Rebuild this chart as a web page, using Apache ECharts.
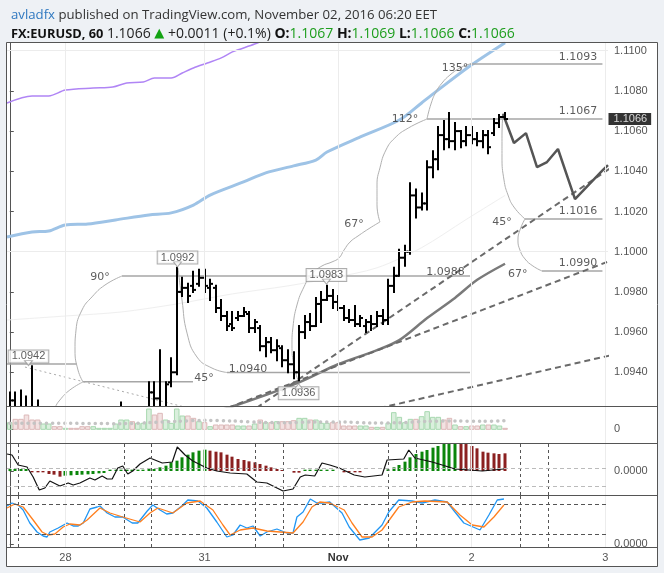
<!DOCTYPE html>
<html>
<head>
<meta charset="utf-8">
<script src="https://cdn.jsdelivr.net/npm/echarts@6.0.0/dist/echarts.min.js"></script>
<style>
html,body{margin:0;padding:0;background:#eef1f5;}
#chart{width:664px;height:573px;}
</style>
</head>
<body>
<div id="chart"></div>
<script>
// ===== data =====
const timeIdx = [10, 35, 59, 83, 107];
const timeText = ['28', '31', 'Nov', '2', '3'];
const priceTicks = [1.094, 1.096, 1.098, 1.100, 1.102, 1.104, 1.106, 1.108, 1.110];
const lastPrice = 1.1066;
const cycleIdx = [1.5, 20.5, 25.5, 44.2, 49.2, 68, 73, 91.8, 96.8];

// hourly bars [open, high, low, close], index 0 = Oct 27 14:00
const ohlc = [
[1.0922,1.0930,1.0918,1.0926],[1.0926,1.0930,1.0917,1.0920],[1.0920,1.0931,1.0914,1.0917],[1.0917,1.0928,1.0910,1.0913],
[1.0913,1.0943,1.0905,1.0910],[1.0910,1.0926,1.0902,1.0905],[1.0905,1.0915,1.0898,1.0910],[1.0910,1.0916,1.0902,1.0912],
[1.0912,1.0916,1.0905,1.0910],[1.0910,1.0914,1.0904,1.0908],[1.0908,1.0912,1.0903,1.0909],[1.0909,1.0912,1.0905,1.0908],
[1.0908,1.0911,1.0904,1.0906],[1.0906,1.0910,1.0902,1.0904],[1.0904,1.0908,1.0898,1.0902],[1.0902,1.0907,1.0899,1.0905],
[1.0905,1.0908,1.0902,1.0906],[1.0906,1.0910,1.0903,1.0907],[1.0907,1.0910,1.0904,1.0908],[1.0908,1.0915,1.0905,1.0913],
[1.0913,1.0925,1.0908,1.0920],[1.0918,1.0922,1.0910,1.0919],[1.0919,1.0921,1.0909,1.0912],[1.0912,1.0918,1.0906,1.0915],
[1.0915,1.0920,1.0908,1.0917],[1.0917,1.0935,1.0905,1.0930],[1.0930,1.0935,1.0915,1.0927],[1.0927,1.0951,1.0912,1.0922],
[1.0922,1.0935,1.0915,1.0934],[1.0935,1.0947,1.0933,1.0940],[1.0940,1.0992,1.0939,1.0980],[1.0980,1.0987,1.0978,1.0982],
[1.0982,1.0984,1.0975,1.0978],[1.0983,1.0990,1.0980,1.0981],[1.0984,1.0991,1.0983,1.0987],[1.0987,1.0991,1.0980,1.0983],
[1.0982,1.0986,1.0976,1.0984],[1.0982,1.0983,1.0970,1.0972],[1.0972,1.0976,1.0966,1.0968],[1.0968,1.0970,1.0961,1.0963],
[1.0964,1.0970,1.0961,1.0962],[1.0967,1.0970,1.0966,1.0968],[1.0968,1.0972,1.0968,1.0970],[1.0969,1.0970,1.0960,1.0962],
[1.0962,1.0966,1.0960,1.0965],[1.0962,1.0963,1.0951,1.0953],[1.0953,1.0957,1.0948,1.0955],[1.0955,1.0957,1.0950,1.0951],
[1.0951,1.0956,1.0946,1.0953],[1.0952,1.0953,1.0943,1.0946],[1.0946,1.0951,1.0940,1.0944],[1.0944,1.0950,1.0937,1.0940],
[1.0940,1.0963,1.0936,1.0960],[1.0960,1.0968,1.0957,1.0965],[1.0965,1.0969,1.0961,1.0963],[1.0963,1.0977,1.0963,1.0974],
[1.0974,1.0980,1.0965,1.0976],[1.0976,1.0983,1.0976,1.0978],[1.0978,1.0981,1.0972,1.0975],[1.0975,1.0978,1.0971,1.0972],
[1.0972,1.0973,1.0966,1.0967],[1.0967,1.0971,1.0965,1.0966],[1.0966,1.0973,1.0963,1.0964],[1.0964,1.0968,1.0963,1.0967],
[1.0963,1.0966,1.0960,1.0965],[1.0965,1.0968,1.0961,1.0964],[1.0964,1.0970,1.0963,1.0968],[1.0968,1.0971,1.0964,1.0966],
[1.0966,1.0986,1.0964,1.0983],[1.0983,1.0992,1.0980,1.0988],[1.0988,1.1001,1.0988,1.0997],[1.0997,1.1003,1.0993,1.1000],
[1.1000,1.1034,1.0999,1.1028],[1.1028,1.1031,1.1017,1.1022],[1.1022,1.1029,1.1021,1.1024],[1.1024,1.1045,1.1021,1.1042],
[1.1042,1.1050,1.1037,1.1046],[1.1046,1.1062,1.1041,1.1058],[1.1058,1.1065,1.1051,1.1056],[1.1056,1.1069,1.1052,1.1055],
[1.1055,1.1064,1.1051,1.1060],[1.1060,1.1060,1.1052,1.1055],[1.1055,1.1062,1.1053,1.1058],[1.1058,1.1062,1.1054,1.1056],
[1.1056,1.1059,1.1053,1.1055],[1.1055,1.1060,1.1052,1.1058],[1.1058,1.1060,1.1049,1.1052],[1.1059,1.1066,1.1058,1.1064],
[1.1064,1.1068,1.1062,1.1067],[1.1067,1.1069,1.1066,1.1066]
];

const volume = [20,30,30,43,28,28,16,16,8,8, 3,3,3,8,8,8,3,3,3,16, 28,28,23,18,18,61,43,48,28,18,
  61,40,40,33,23,20,8,13,13,13, 13,10,10,10,16,28,20,20,23,23, 23,26,33,33,28,28,18,18,20,20,
  10,10,10,10,10,6,6,6,18,50, 36,20,30,30,38,53,36,36,28,33, 13,8,8,10,10,13,13,13,10,3];
const volumeMA = [[0,18],[10,18],[20,17],[25,20],[30,24],[35,27],[40,25],[45,21],[50,20],[55,22],[60,22],[65,19],[70,20],[75,24],[80,25],[85,24],[89,26]];

const macdHist = [6,6,6,6,-4,-4,-4,-9,-11,-17, -14,-13,-12,-11,-10,-9,-7,-6,4,4, 4,4,4,4,4,6,6,11,16,26,
  31,41,49,56,61,64,61,58,56,49, 43,36,33,29,26,21,16,11,6,3, 0,-5,-5,4,4,4,4,4,4,0,
  -4,-4,-4,-4,0,0,0,0,5,11, 18,28,41,51,58,63,70,75,81,83, 84,83,81,75,68,58,55,53,51,53];
const macdHistColor = 'ggggrrrrrr' + 'gggggggggg' + 'gggggggggg' + 'ggggggrrrr' + 'rrrrrrrrrr' +
  'rrrggggggg' + 'rrrrgggggg' + 'gggggggggg' + 'grrrrrrrrr';
const macdLine = [[-0.5,51],[0.4,48],[1.5,18],[3.1,12],[4.2,-18],[5.3,-57],[6.3,-51],[7.2,-30],[9.0,-45],[10.5,-36],[11.4,-42],[12.6,-36],[14.4,-21],[15.3,-27],[16.6,-15],[17.5,-24],[18.4,-24],[19.4,9],[20.3,15],[21.2,-9],[22.1,0],[23.4,21],[25.2,39],[27.4,24],[29.2,27],[30.1,72],[31.5,48],[32.9,30],[35.4,9],[37.2,0],[39.6,-6],[42.6,-9],[44.4,-33],[46.2,-36],[49.1,-60],[50.9,-54],[52.2,-18],[53.1,-12],[54.8,-15],[56.1,24],[57.5,18],[59.2,9],[61.9,-12],[63.8,-18],[66.9,-12],[67.8,33],[70.8,36],[71.7,63],[72.8,39],[75.9,27],[77.7,18],[80,6],[84.9,0],[88.8,6]];

const stochK = [[-0.5,76],[0.4,82],[1.5,78],[2.4,68],[3.6,42],[4.9,24],[6,16],[6.7,14],[7.2,24],[8.7,32],[10.3,42],[11.4,36],[12.3,36],[13.2,42],[14.4,70],[15.7,74],[16.2,76],[17.5,62],[18.9,54],[20.3,54],[22,42],[23,42],[24.7,66],[25.7,78],[27,68],[28.2,60],[29.3,62],[30.9,76],[32,88],[33.8,86],[35.4,72],[37.2,44],[39,14],[40.1,18],[41.4,38],[42.6,32],[43.7,36],[45,16],[46.2,24],[48,30],[49.8,22],[50.9,22],[51.6,54],[52.7,64],[54,90],[55.2,82],[56.3,82],[57.5,84],[59.7,62],[61,34],[62.9,8],[64.6,12],[66.9,38],[68.1,64],[69.9,88],[72.3,86],[74.1,82],[76.4,88],[78.6,84],[80,64],[81.6,42],[84.5,28],[86.1,58],[87.6,88],[88.8,90]];
const stochD = [[-0.5,72],[0.9,80],[2.4,74],[4.2,48],[5.8,24],[6.9,18],[8.1,20],[9.6,34],[10.8,40],[12.6,38],[13.9,48],[16.2,72],[18,62],[20.3,54],[23.4,44],[25.2,62],[26.6,72],[29.3,62],[31.8,82],[34.2,86],[36.5,68],[38.3,38],[39.6,18],[41.4,28],[43.7,32],[46.2,26],[48.6,24],[50.9,22],[52.7,44],[54.3,74],[55.7,84],[57.5,82],[60.1,68],[61.5,42],[63.3,14],[65.1,14],[66.9,28],[69.9,74],[72.3,84],[74.6,86],[78.6,84],[80.9,58],[83.1,38],[85.2,34],[87,54],[88.8,78]];

// overlay indicator lines on price
const blueLine = [[-0.5,1.10073],[4,1.10098],[7,1.10103],[10,1.10133],[14,1.10138],[19,1.10158],[25,1.10183],[29,1.10193],[33,1.10232],[36,1.10282],[42,1.10347],[46,1.10392],[51,1.10427],[55,1.10456],[57,1.10496],[63,1.10571],[70,1.10655],[74,1.10740],[77,1.10805],[83,1.1093],[89,1.1104]];
const purpleLine = [[-0.5,1.10740],[4,1.10775],[7,1.10775],[10,1.10804],[15,1.10814],[18.5,1.10819],[21,1.10839],[24,1.10844],[26,1.10864],[29,1.10864],[31,1.10889],[33,1.10914],[35.5,1.10939],[38,1.10964],[40,1.10994],[44,1.11033],[47,1.11068],[52,1.1112]];
const grayMA = [[30,1.0915],[40,1.0923],[52,1.0935],[59,1.0944],[66,1.0951],[70,1.0956],[75,1.0967],[80,1.0977],[84,1.0986],[89,1.0994]];
const faintMA = [[-0.5,1.0966],[10,1.0968],[20,1.0970],[30,1.0974],[40,1.0979],[50,1.0983],[58,1.0987],[66,1.0992],[74,1.1002],[82,1.1016],[89,1.1028]];

// drawings (index, price)
const lvl0942 = [[-0.5,1.09441],[12.08,1.09441]];
const arc90 = [[13.16,1.09352],[12.26,1.09411],[11.72,1.09511],[11.9,1.09610],[12.98,1.09710],[14.77,1.09775],[17.1,1.09834],[20.16,1.09879]];
const arc90low = [[13.16,1.09352],[10.8,1.09312],[9.0,1.09262],[8.1,1.09222],[7.6,1.0918]];
const lvl45 = [[13.16,1.09353],[32.92,1.09353]];
const lvl0988 = [[20.16,1.09879],[82.7,1.09879]];
const arc45a = [[30.23,1.09919],[30.95,1.09760],[31.85,1.09595],[33.64,1.09476],[36.34,1.09421],[39.03,1.09399]];
const lvl0940 = [[39.03,1.09399],[82.7,1.09399]];
const arc67a = [[51.79,1.09362],[51.07,1.09431],[50.71,1.09536],[50.89,1.09625],[51.61,1.09735],[52.87,1.09825],[54.31,1.09890],[56.1,1.09929],[57.9,1.09949],[59.16,1.09969],[60.06,1.10008],[61.14,1.10048],[62.57,1.10078],[64.73,1.10118],[66.52,1.10148]];
const arc112 = [[66.52,1.10148],[65.99,1.10233],[65.99,1.10332],[66.52,1.10417],[67.6,1.10506],[69.2,1.10566],[71.6,1.10615],[74.97,1.10660]];
const arc135 = [[74.97,1.10660],[75.69,1.10735],[76.59,1.10795],[77.67,1.10839],[79.1,1.10879],[80.9,1.10914],[82.7,1.10934]];
const lvl1093 = [[82.7,1.10934],[106.5,1.10934]];
const lvl1067 = [[74.97,1.10660],[106.5,1.10660]];
const arc45b = [[88.63,1.10690],[88.45,1.10580],[88.45,1.10471],[88.81,1.10357],[89.53,1.10282],[90.6,1.10222],[92.58,1.10163]];
const lvl1016 = [[92.58,1.10163],[106.5,1.10163]];
const arc67b = [[92.58,1.10163],[91.68,1.10108],[91.32,1.10058],[91.68,1.10008],[92.58,1.09964],[94.0,1.09929],[95.64,1.09904]];
const lvl0990 = [[95.64,1.09904],[106.5,1.09904]];
const projection = [[88.63,1.10685],[90.6,1.10541],[92.76,1.10590],[94.74,1.10421],[96.54,1.10446],[98.51,1.10511],[101.57,1.10262],[106.6,1.10407],[107.5,1.10431]];
const trend1 = [[41.4,1.09168],[108.2,1.10421]];
const trend2 = [[34.2,1.09170],[108.2,1.09958]];
const trend3 = [[64.7,1.09211],[108.2,1.09486]];
const fanDotted = [[2.73,1.09426],[40,1.09168]];
const textLabels = [[16.21,1.09874,'90°'],[34.9,1.09372,'45°'],[42.8,1.09416,'1.0940'],[78.3,1.09899,'1.0988'],[61.85,1.10138,'67°'],[71.0,1.1066,'112°'],[80.0,1.10914,'135°'],[102.1,1.10969,'1.1093'],[102.1,1.10700,'1.1067'],[102.1,1.10203,'1.1016'],[102.1,1.09944,'1.0990'],[88.45,1.10148,'45°'],[91.3,1.09889,'67°']];
const boxLabels = [[30.14,1.09971,'1.0992'],[56.9,1.09884,'1.0983'],[51.9,1.09296,'1.0936'],[3.36,1.09479,'1.0942']];
// callout pointers of the boxes: [index, price, 1 = points down / 0 = points up]
const boxPointers = [[30.14,1.09937,1],[56.9,1.09851,1],[51.9,1.09330,0],[3.36,1.09446,1]];

// ===== chart =====
const chart = echarts.init(document.getElementById('chart'));
const X_MIN = -0.5, X_MAX = 107.5;
const AX = '#555';
const AF = 'Liberation Sans, Arial, sans-serif';
const LBL = {color: '#555', fontSize: 11, fontFamily: AF};
const CLEAR = 'rgba(0,0,0,0)';

function xAxis(gi, withLabels) {
  return {
    type: 'value', gridIndex: gi, min: X_MIN, max: X_MAX,
    axisLine: {show: false}, splitLine: {show: false},
    axisTick: withLabels ? {show: true, customValues: timeIdx, length: 4, lineStyle: {color: AX}} : {show: false},
    axisLabel: withLabels ? Object.assign({}, LBL, {
      customValues: timeIdx, margin: 5,
      formatter: function (v) {
        const k = timeIdx.indexOf(Math.round(v));
        if (k < 0) return '';
        return timeText[k] === 'Nov' ? '{b|Nov}' : timeText[k];
      },
      rich: {b: {fontWeight: 'bold', color: '#333', fontSize: 11, fontFamily: AF}}
    }) : {show: false}
  };
}
function yAxis(gi, min, max, vals, fmt) {
  return {
    type: 'value', gridIndex: gi, position: 'right', min: min, max: max, scale: true,
    axisLine: {show: true, lineStyle: {color: AX}},
    axisTick: {show: true, customValues: vals, length: 4, lineStyle: {color: AX}},
    axisLabel: Object.assign({}, LBL, {customValues: vals, margin: 6, formatter: fmt}),
    splitLine: {show: false}
  };
}
function helper(gi, yVal, marks) {
  return {
    type: 'line', xAxisIndex: gi, yAxisIndex: gi, data: [[X_MIN, yVal]], symbol: 'none',
    silent: true, z: 1, lineStyle: {opacity: 0},
    markLine: {silent: true, symbol: 'none', animation: false, label: {show: false}, data: marks}
  };
}
function vGrid() {
  return timeIdx.map(v => ({xAxis: v, lineStyle: {color: '#ececec', width: 1, type: 'solid'}}));
}
function drawing(data, color, width, type, smooth) {
  return {
    type: 'line', xAxisIndex: 0, yAxisIndex: 0, data: data, symbol: 'none', silent: true,
    smooth: smooth || false, clip: true, z: 3,
    lineStyle: {color: color, width: width, type: type || 'solid'}
  };
}

const ohlcData = ohlc.map((d, i) => [i, d[0], d[1], d[2], d[3]]);
const volData = volume.map((v, i) => [i, v, ohlc[i][3] >= ohlc[i][0] ? 1 : 0]);
const histData = macdHist.map((v, i) => [i, v, macdHistColor[i] === 'g' ? 1 : 0]);

const series = [];
// price panel gridlines
series.push(helper(0, 1.1, vGrid().concat(priceTicks.map(v => ({yAxis: v, lineStyle: {color: '#ececec', width: 1, type: 'solid'}})))));
// overlay indicators
series.push({type: 'line', xAxisIndex: 0, yAxisIndex: 0, data: faintMA, symbol: 'none', smooth: 0.3, z: 2, silent: true, lineStyle: {color: '#efefef', width: 1}});
series.push({type: 'line', xAxisIndex: 0, yAxisIndex: 0, data: purpleLine, symbol: 'none', smooth: 0.3, z: 2, silent: true, lineStyle: {color: '#b085f5', width: 1.5}});
series.push({type: 'line', xAxisIndex: 0, yAxisIndex: 0, data: blueLine, symbol: 'none', smooth: 0.3, z: 2, silent: true, lineStyle: {color: '#9ec3e6', width: 3}});
series.push({type: 'line', xAxisIndex: 0, yAxisIndex: 0, data: grayMA, symbol: 'none', smooth: 0.3, z: 3, silent: true, lineStyle: {color: '#7a7a7a', width: 2.5}});
// drawings
[lvl0942, lvl45, lvl0988, lvl0940, lvl1093, lvl1067, lvl1016, lvl0990].forEach(d => series.push(drawing(d, '#a6a6a6', 1.5)));
[arc90, arc90low, arc45a, arc67a, arc112, arc135, arc45b, arc67b].forEach(d => series.push(drawing(d, '#b0b0b0', 1, 'solid', 0.5)));
series.push(drawing(fanDotted, '#aaaaaa', 1, [2, 3]));
[trend1, trend2, trend3].forEach(d => series.push(drawing(d, '#6a6a6a', 2, [6, 4])));
series.push(drawing(projection, '#555555', 2.5));
// OHLC bars
series.push({
  type: 'custom', xAxisIndex: 0, yAxisIndex: 0, data: ohlcData, clip: true, z: 4, silent: true,
  encode: {x: 0, y: [1, 2, 3, 4]},
  renderItem: function (params, api) {
    const i = api.value(0);
    const o = api.coord([i, api.value(1)]), h = api.coord([i, api.value(2)]);
    const l = api.coord([i, api.value(3)]), c = api.coord([i, api.value(4)]);
    const x = Math.round(h[0]);
    const st = {stroke: '#000', lineWidth: 2};
    return {type: 'group', children: [
      {type: 'line', shape: {x1: x, y1: h[1] - 1, x2: x, y2: l[1] + 1}, style: st},
      {type: 'line', shape: {x1: x - 3, y1: o[1], x2: x, y2: o[1]}, style: st},
      {type: 'line', shape: {x1: x, y1: c[1], x2: x + 3, y2: c[1]}, style: st}
    ]};
  }
});
// text annotations
series.push({
  type: 'scatter', xAxisIndex: 0, yAxisIndex: 0, data: textLabels, symbolSize: 1, itemStyle: {color: CLEAR}, z: 6, silent: true,
  label: {show: true, position: 'inside', formatter: p => p.data[2], color: '#333', fontSize: 11, fontFamily: 'DejaVu Sans, Verdana, sans-serif'}
});
series.push({
  type: 'scatter', xAxisIndex: 0, yAxisIndex: 0, data: boxLabels, symbolSize: 1, itemStyle: {color: CLEAR}, z: 6, silent: true,
  label: {show: true, position: 'inside', formatter: p => p.data[2], color: '#333', fontSize: 11,
    fontFamily: AF, backgroundColor: '#fff', borderColor: '#999', borderWidth: 1, padding: [1, 3, 0, 3]}
});
series.push({
  type: 'scatter', xAxisIndex: 0, yAxisIndex: 0, data: boxPointers, symbol: 'triangle', symbolSize: [8, 5], z: 7, silent: true,
  symbolRotate: p => (p[2] === 1 ? 180 : 0),
  itemStyle: {color: '#fff', borderColor: '#999', borderWidth: 1}
});
// last price tag on the axis
series.push({
  type: 'scatter', xAxisIndex: 0, yAxisIndex: 0, data: [[X_MAX, lastPrice]], symbolSize: 1, itemStyle: {color: CLEAR},
  z: 20, silent: true, clip: false,
  label: {show: true, position: 'right', distance: 0, formatter: lastPrice.toFixed(4), backgroundColor: '#000', color: '#fff',
    padding: [1, 4, 0, 5], fontSize: 11, fontFamily: AF}
});

// volume panel
series.push(helper(1, 0, vGrid()));
series.push({
  type: 'custom', xAxisIndex: 1, yAxisIndex: 1, data: volData, clip: true, z: 2, silent: true,
  encode: {x: 0, y: 1},
  renderItem: function (params, api) {
    const i = api.value(0);
    const b = api.coord([i, 0]), t = api.coord([i, api.value(1)]);
    const w = api.size([1, 0])[0];
    const up = api.value(2) === 1;
    return {type: 'rect', shape: {x: b[0] - w / 2 + 0.5, y: t[1], width: w - 1, height: b[1] - t[1]},
      style: {fill: up ? 'rgba(140,205,150,0.32)' : 'rgba(215,160,160,0.30)', stroke: up ? '#a8d8b0' : '#dcb8b8', lineWidth: 1}};
  }
});
series.push({type: 'line', xAxisIndex: 1, yAxisIndex: 1, data: volumeMA, symbol: 'none', smooth: 0.3, z: 3, silent: true,
  lineStyle: {color: '#c4c4c4', width: 3.5, type: [0.1, 6], cap: 'round'}});

// MACD panel
series.push(helper(2, 0, vGrid().concat(
  cycleIdx.map(v => ({xAxis: v, lineStyle: {color: '#555', width: 1, type: [3, 3]}})),
  [{yAxis: 8, lineStyle: {color: '#bbb', width: 1, type: [4, 3]}}, {yAxis: -45, lineStyle: {color: '#bbb', width: 1, type: [4, 3]}}]
)));
series.push({
  type: 'custom', xAxisIndex: 2, yAxisIndex: 2, data: histData, clip: true, z: 2, silent: true,
  encode: {x: 0, y: 1},
  renderItem: function (params, api) {
    const v = api.value(1);
    if (v === 0) return null;
    const i = api.value(0);
    const b = api.coord([i, 0]), t = api.coord([i, v]);
    return {type: 'rect', shape: {x: Math.round(b[0]) - 1.5, y: Math.min(b[1], t[1]), width: 3, height: Math.abs(b[1] - t[1])},
      style: {fill: api.value(2) === 1 ? '#0b860b' : '#8b2020'}};
  }
});
series.push({type: 'line', xAxisIndex: 2, yAxisIndex: 2, data: macdLine, symbol: 'none', z: 3, silent: true, lineStyle: {color: '#111', width: 1.2}});

// Stochastic panel
series.push(helper(3, 0, vGrid().concat(
  cycleIdx.map(v => ({xAxis: v, lineStyle: {color: '#555', width: 1, type: [3, 3]}})),
  [{yAxis: 80, lineStyle: {color: '#555', width: 1, type: [4, 3]}}, {yAxis: 20, lineStyle: {color: '#555', width: 1, type: [4, 3]}}]
)));
series.push({type: 'line', xAxisIndex: 3, yAxisIndex: 3, data: stochK, symbol: 'none', z: 3, silent: true, lineStyle: {color: '#2196f3', width: 1.3}});
series.push({type: 'line', xAxisIndex: 3, yAxisIndex: 3, data: stochD, symbol: 'none', z: 3, silent: true, lineStyle: {color: '#ff7f1e', width: 1.3}});

const HF = 'Open Sans, DejaVu Sans, sans-serif';
const option = {
  animation: false,
  backgroundColor: '#eef1f5',
  title: [
    {left: 6, top: 2, text: '{a|avladfx}{b| published on TradingView.com, November 02, 2016 06:20 EET}',
      textStyle: {fontWeight: 'normal', rich: {
        a: {color: '#2f78c0', fontSize: 13.2, fontWeight: 'normal', fontFamily: HF, lineHeight: 16},
        b: {color: '#333', fontSize: 13.2, fontWeight: 'normal', fontFamily: HF, lineHeight: 16}}}},
    {left: 6, top: 21, text: '{f|FX:EURUSD, 60}{v| 1.1066 }{u|▲}{v| +0.0011 (+0.1%) }{k|O:}{g|1.1067}{k| H:}{g|1.1069}{k| L:}{g|1.1066}{k| C:}{g|1.1066}',
      textStyle: {fontWeight: 'normal', rich: {
        f: {color: '#111', fontWeight: 'bold', fontSize: 12.8, fontFamily: HF, lineHeight: 16},
        k: {color: '#111', fontWeight: 'bold', fontSize: 14, fontFamily: HF, lineHeight: 16},
        v: {color: '#222', fontWeight: 'normal', fontSize: 14, fontFamily: HF, lineHeight: 16},
        u: {color: '#13a313', fontWeight: 'normal', fontSize: 13, fontFamily: 'DejaVu Sans', lineHeight: 16},
        g: {color: '#1d9e1d', fontWeight: 'normal', fontSize: 14, fontFamily: HF, lineHeight: 16}
      }}}
  ],
  grid: [
    {left: 7, top: 43, width: 601, height: 363},
    {left: 7, top: 407, width: 601, height: 36},
    {left: 7, top: 443, width: 601, height: 52},
    {left: 7, top: 495, width: 601, height: 52}
  ],
  xAxis: [xAxis(0, false), xAxis(1, false), xAxis(2, false), xAxis(3, true)],
  yAxis: [
    yAxis(0, 1.092323, 1.110383, priceTicks, v => v.toFixed(4)),
    yAxis(1, -41, 67, [0], () => '0'),
    yAxis(2, -72, 84, [0], () => '0.0000'),
    yAxis(3, -6, 98, [0], () => '0.0000')
  ],
  graphic: [
    {type: 'rect', z: -100, silent: true, shape: {x: 6.5, y: 42.5, width: 651, height: 524}, style: {fill: '#fff'}},
    {type: 'rect', z: 100, silent: true, shape: {x: 6.5, y: 42.5, width: 651, height: 524}, style: {fill: 'none', stroke: '#555', lineWidth: 1}},
    {type: 'line', z: 100, silent: true, shape: {x1: 6.5, y1: 406.5, x2: 657.5, y2: 406.5}, style: {stroke: '#555', lineWidth: 1}},
    {type: 'line', z: 100, silent: true, shape: {x1: 6.5, y1: 443.5, x2: 657.5, y2: 443.5}, style: {stroke: '#555', lineWidth: 1}},
    {type: 'line', z: 100, silent: true, shape: {x1: 6.5, y1: 495.5, x2: 657.5, y2: 495.5}, style: {stroke: '#555', lineWidth: 1}},
    {type: 'line', z: 100, silent: true, shape: {x1: 6.5, y1: 547.5, x2: 657.5, y2: 547.5}, style: {stroke: '#555', lineWidth: 1}}
  ],
  series: series
};
chart.setOption(option);
</script>
</body>
</html>
